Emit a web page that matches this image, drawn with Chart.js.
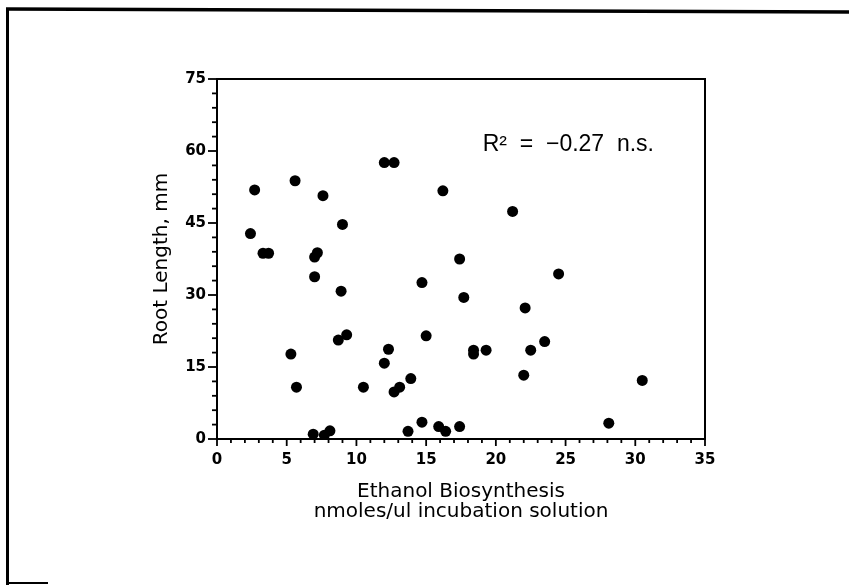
<!DOCTYPE html>
<html>
<head>
<meta charset="utf-8">
<script src="https://cdn.jsdelivr.net/npm/chart.js@4/dist/chart.umd.min.js"></script>
<style>
  html, body { margin: 0; padding: 0; background: #fff; }
  #wrap { width: 849px; height: 585px; position: relative; }
</style>
</head>
<body>
<div id="wrap"><canvas id="c" width="849" height="585"></canvas></div>
<script>
// Ethanol biosynthesis (nmoles/ul) for each sample
const ethanol = [
  2.4, 2.7, 3.3, 3.7, 5.6, 5.3, 5.7, 6.9, 7.0, 7.2, 7.0, 7.6, 7.7, 8.1,
  9.0, 8.9, 8.7, 9.3, 10.5, 12.0, 12.7, 12.0, 12.3, 12.7, 13.1, 13.7,
  14.7, 14.7, 13.9, 15.0, 15.9, 16.2, 16.4, 17.4, 17.4, 17.7, 18.4, 18.4,
  19.3, 21.2, 22.0, 22.1, 22.5, 23.5, 24.5, 28.1, 30.5
];
// Root length (mm) for each sample
const rootLength = [
  42.8, 51.9, 38.7, 38.7, 53.8, 17.7, 10.8, 1.0, 37.9, 38.8, 33.8, 50.7, 0.8, 1.7,
  44.7, 30.8, 20.6, 21.7, 10.8, 57.6, 57.6, 15.8, 18.7, 9.8, 10.8, 1.6,
  32.6, 3.5, 12.6, 21.5, 2.6, 51.7, 1.6, 37.5, 2.6, 29.5, 18.5, 17.7,
  18.5, 47.4, 13.3, 27.3, 18.5, 20.3, 34.4, 3.3, 12.2
];
const xTickLabels = [0, 5, 10, 15, 20, 25, 30, 35];
const yTickLabels = [0, 15, 30, 45, 60, 75];
const annotationText = 'R\u00B2  =  \u22120.27  n.s.';

const points = ethanol.map((x, i) => ({ x: x, y: rootLength[i] }));

const framePlugin = {
  id: 'frame',
  afterDraw(chart) {
    const ctx = chart.ctx;
    const a = chart.chartArea;
    const xs = chart.scales.x, ys = chart.scales.y;
    ctx.save();
    ctx.strokeStyle = '#000';
    ctx.lineCap = 'butt';
    // page frame
    ctx.lineWidth = 3.5;
    ctx.beginPath(); ctx.moveTo(6, 9); ctx.lineTo(849, 12); ctx.stroke();
    ctx.lineWidth = 3;
    ctx.beginPath(); ctx.moveTo(7.5, 8); ctx.lineTo(7.5, 585); ctx.stroke();
    ctx.lineWidth = 2;
    ctx.beginPath(); ctx.moveTo(6, 583); ctx.lineTo(48, 583); ctx.stroke();
    // plot box
    ctx.lineWidth = 2;
    ctx.strokeRect(a.left, a.top, a.right - a.left, a.bottom - a.top);
    // x tick marks (downward)
    ctx.lineWidth = 1.8;
    xs.ticks.forEach(t => {
      const px = xs.getPixelForValue(t.value);
      const len = (t.value % 5 === 0) ? 7 : 4;
      ctx.beginPath(); ctx.moveTo(px, a.bottom); ctx.lineTo(px, a.bottom + len); ctx.stroke();
    });
    // y tick marks (leftward)
    ys.ticks.forEach(t => {
      const py = ys.getPixelForValue(t.value);
      const len = (t.value % 15 === 0) ? 9 : 5;
      ctx.beginPath(); ctx.moveTo(a.left, py); ctx.lineTo(a.left - len, py); ctx.stroke();
    });
    // annotation
    ctx.fillStyle = '#000';
    ctx.font = '23px "Liberation Sans", Arial, sans-serif';
    ctx.textAlign = 'center';
    ctx.textBaseline = 'middle';
    ctx.fillText(annotationText, xs.getPixelForValue(25.2), ys.getPixelForValue(61.3));
    ctx.restore();
  }
};

new Chart(document.getElementById('c'), {
  type: 'scatter',
  data: {
    datasets: [{
      data: points,
      backgroundColor: '#000',
      borderColor: '#000',
      pointRadius: 5.5,
      pointHoverRadius: 5.5,
      borderWidth: 0
    }]
  },
  options: {
    responsive: false,
    animation: false,
    events: [],
    layout: { padding: { left: 0, top: 79, right: 144, bottom: 0 } },
    plugins: { legend: { display: false }, tooltip: { enabled: false } },
    scales: {
      x: {
        type: 'linear',
        min: 0, max: 35,
        afterFit(s) { s.height = 146; },
        grid: { display: false, drawTicks: false },
        border: { display: false },
        ticks: {
          stepSize: 1, autoSkip: false, maxRotation: 0, padding: 12,
          color: '#000',
          font: { family: '"DejaVu Sans", sans-serif', size: 15, weight: 'bold' },
          callback: v => xTickLabels.includes(v) ? String(v) : ''
        },
        title: {
          display: true,
          text: ['Ethanol Biosynthesis', 'nmoles/ul incubation solution'],
          color: '#000',
          font: { family: '"DejaVu Sans", sans-serif', size: 20, lineHeight: 1.0 },
          padding: { top: 0, bottom: 63 }
        }
      },
      y: {
        type: 'linear',
        min: 0, max: 75,
        afterFit(s) { s.width = 217; },
        grid: { display: false, drawTicks: false },
        border: { display: false },
        ticks: {
          stepSize: 3, autoSkip: false, padding: 11,
          color: '#000',
          font: { family: '"DejaVu Sans", sans-serif', size: 15, weight: 'bold' },
          callback: v => yTickLabels.includes(v) ? String(v) : ''
        },
        title: {
          display: true,
          text: 'Root Length, mm',
          color: '#000',
          font: { family: '"DejaVu Sans", sans-serif', size: 20, lineHeight: 1.0 },
          padding: { top: 152, bottom: 0 }
        }
      }
    }
  },
  plugins: [framePlugin]
});
</script>
</body>
</html>
